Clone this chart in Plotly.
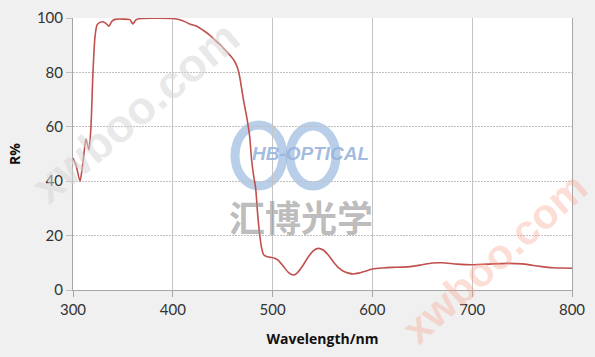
import plotly.graph_objects as go

wavelength = [300, 303, 307, 310, 313, 316, 318, 320, 322, 324, 327, 330, 333, 336, 339, 342,
              350, 357, 360, 363, 368, 380, 400, 410, 417, 425, 430, 436, 442, 448, 454, 458,
              462, 465, 467, 469, 471, 474, 477, 479, 481, 483, 485, 487, 489, 491, 494, 498,
              502, 506, 511, 516, 521, 525, 530, 536, 541, 546, 551, 556, 561, 566, 571, 576,
              581, 586, 591, 600, 610, 620, 630, 640, 650, 660, 670, 685, 700, 715, 735, 750,
              760, 770, 780, 790, 800]
reflectance = [48.5, 46, 40, 47, 55.5, 51.5, 60, 80, 93, 97.4, 98.4, 98.6, 98, 97, 98.8, 99.5,
               99.6, 99.4, 97.8, 99.3, 99.8, 99.9, 99.8, 99, 97.8, 96.8, 95.6, 94, 92, 90, 87.6, 86,
               84, 81.5, 78.4, 74, 69.5, 63.7, 56.5, 47.8, 42, 37.5, 28, 20.5, 15.5, 13, 12.3, 12,
               11.7, 10.8, 8.6, 6.4, 5.5, 6.4, 8.8, 12.3, 14.5, 15.3, 14.6, 12.8, 10.3, 8.2, 6.9, 6.2,
               5.9, 6.2, 6.7, 7.7, 8.1, 8.3, 8.4, 8.7, 9.3, 9.9, 10.0, 9.5, 9.3, 9.5, 9.8, 9.6,
               9.1, 8.6, 8.2, 8.1, 8.0]

x_ticks = [300, 400, 500, 600, 700, 800]
y_ticks = [0, 20, 40, 60, 80, 100]

fig = go.Figure()
fig.add_trace(go.Scatter(x=wavelength, y=reflectance, mode="lines",
                         line=dict(color="#c0504d", width=1.6, shape="spline", smoothing=0.6),
                         showlegend=False, hoverinfo="skip"))

# logo rings (decorative watermark)
L, R, T, B = 73, 572, 18, 290
def px(x): return (x - L) / (R - L)
def py(y): return (B - y) / (B - T)
ring_color = "rgba(160,190,225,0.75)"
fig.add_shape(type="circle", xref="paper", yref="paper", layer="between",
              x0=px(235), x1=px(283), y0=py(186), y1=py(125),
              line=dict(color=ring_color, width=9))
fig.add_shape(type="circle", xref="paper", yref="paper", layer="between",
              x0=px(290), x1=px(336), y0=py(186), y1=py(126),
              line=dict(color=ring_color, width=9))

annos = [
    dict(text="<b><i>HB-OPTICAL</i></b>", x=px(310), y=py(153), font=dict(size=19, color="rgba(150,180,220,0.9)", family="Liberation Sans")),
    dict(text="<b>汇博光学</b>", x=px(301), y=py(216), font=dict(size=36, color="rgba(150,150,150,0.65)", family="Noto Sans CJK SC")),
    dict(text="<b>xwboo.com</b>", x=px(135), y=py(112), textangle=-40, font=dict(size=46, color="rgba(215,215,215,0.55)", family="Liberation Sans")),
    dict(text="<b>xwboo.com</b>", x=px(494), y=py(258), textangle=-42, font=dict(size=42, color="rgba(250,160,140,0.35)", family="Liberation Sans")),
]
for a in annos:
    fig.add_annotation(xref="paper", yref="paper", showarrow=False, xanchor="center", yanchor="middle", **a)

fig.update_layout(
    width=595, height=357,
    margin=dict(l=73, r=23, t=18, b=67, autoexpand=False),
    paper_bgcolor="#f0f0f0", plot_bgcolor="#ffffff",
    font=dict(family="Lato", size=15, color="#333333"),
)
fig.update_xaxes(range=[300, 800], tickvals=x_ticks, showgrid=True, gridcolor="#c4c4c4", gridwidth=1,
                 showline=True, linecolor="#a6a6a6", linewidth=1, ticks="outside", ticklen=6,
                 tickcolor="#a6a6a6", zeroline=False, automargin=False,
                 title=dict(text="<b>Wavelength/nm</b>", font=dict(size=14, family="Open Sans", color="#111111"), standoff=17))
fig.update_yaxes(range=[0, 100], tickvals=y_ticks, showgrid=True, gridcolor="#c0c0c0", gridwidth=1,
                 griddash="2px,1px", showline=True, mirror=True, linecolor="#a6a6a6", linewidth=1,
                 ticks="outside", ticklen=6, tickcolor="#c0c0c0", zeroline=False, automargin=False,
                 title=dict(text="<b>R%</b>", font=dict(size=14, family="Open Sans", color="#111111"), standoff=12))

fig.write_html("out.html")
